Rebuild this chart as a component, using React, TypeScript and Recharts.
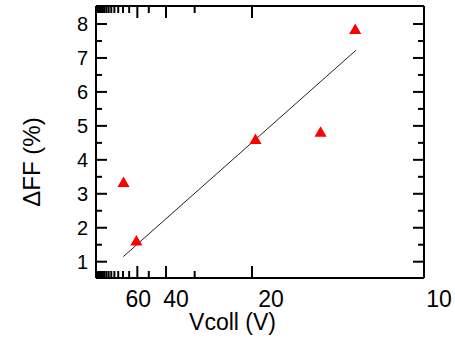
import { ScatterChart, Scatter, XAxis, YAxis, ZAxis, Label } from "recharts";

// measured points: collector voltage (V) vs change of fill factor (%)
const collectorVolts = [79, 61, 19.6, 14.3, 12.5];
const deltaFF = [3.3, 1.58, 4.57, 4.78, 7.81];

// straight fit drawn through the points
const fitVolts = [79.4, 12.46];
const fitDeltaFF = [1.15, 7.23];

// axis ticks (x axis runs in 1/V)
const labeledVolts = [60, 40, 20, 10];
const minorVolts = [30, 50, 70, 80, 90, 100, 110, 120, 130, 140, 150, 160, 170, 180, 190, 200];
const majorFF = [1, 2, 3, 4, 5, 6, 7, 8];
const minorFF = [1.5, 2.5, 3.5, 4.5, 5.5, 6.5, 7.5];

const points = collectorVolts.map((v, i) => ({ inv: 1 / v, ff: deltaFF[i] }));
const fitLine = fitVolts.map((v, i) => ({ inv: 1 / v, ff: fitDeltaFF[i] }));
const xTicks = [...labeledVolts, ...minorVolts].map((v) => 1 / v);
const yTicks = [...majorFF, ...minorFF];

const FONT = '"Liberation Sans", Arial, Helvetica, sans-serif';
// the original labels sit a little right of their ticks
const labelShift: Record<number, number> = { 60: 1, 40: 10, 20: 19, 10: 15 };

const volt = (u: number) => Math.round(1 / u);
const isMajorX = (u: number) => labeledVolts.includes(volt(u));

function BottomTick(props: any) {
  const { x, y, payload } = props;
  const v = volt(payload.value);
  const major = isMajorX(payload.value);
  return (
    <g>
      <line x1={x} x2={x} y1={y} y2={y - (major ? 12 : 7)} stroke="#000" strokeWidth={2} />
      {major && (
        <text x={x + (labelShift[v] ?? 0)} y={y + 29} textAnchor="middle" fontSize={23} fontFamily={FONT} fill="#000">
          {v}
        </text>
      )}
    </g>
  );
}

function TopTick(props: any) {
  const { x, y, payload } = props;
  const len = isMajorX(payload.value) ? 12 : 7;
  return <line x1={x} x2={x} y1={y} y2={y + len} stroke="#000" strokeWidth={2} />;
}

function LeftTick(props: any) {
  const { x, y, payload } = props;
  const major = Number.isInteger(payload.value);
  return (
    <g>
      <line x1={x} x2={x + (major ? 11 : 6)} y1={y} y2={y} stroke="#000" strokeWidth={2} />
      {major && (
        <text x={x - 8} y={y + 7} textAnchor="end" fontSize={20} fontFamily={FONT} fill="#000">
          {payload.value}
        </text>
      )}
    </g>
  );
}

function RightTick(props: any) {
  const { x, y, payload } = props;
  const len = Number.isInteger(payload.value) ? 11 : 6;
  return <line x1={x} x2={x - len} y1={y} y2={y} stroke="#000" strokeWidth={2} />;
}

const axisLine = { stroke: "#000", strokeWidth: 2 };
const xDomain: [number, number] = [0.00465, 0.1];
const yDomain: [number, number] = [0.52, 8.53];

export default function App() {
  return (
    <div style={{ position: "absolute", left: 0, top: 0, background: "#fff" }}>
      <ScatterChart width={455} height={341} margin={{ top: 5, right: 30, bottom: 0, left: 0 }}>
        <XAxis
          xAxisId="b"
          type="number"
          dataKey="inv"
          orientation="bottom"
          height={63}
          domain={xDomain}
          allowDataOverflow
          ticks={xTicks}
          interval={0}
          tickSize={0}
          tickMargin={0}
          tick={<BottomTick />}
          axisLine={axisLine}
        >
          <Label
            content={(p: any) => (
              <text
                x={p.viewBox.x + p.viewBox.width / 2 - 27.5}
                y={p.viewBox.y + 52}
                textAnchor="middle"
                fontSize={23}
                fontFamily={FONT}
                fill="#000"
              >
                Vcoll (V)
              </text>
            )}
          />
        </XAxis>
        <XAxis
          xAxisId="t"
          type="number"
          dataKey="inv"
          orientation="top"
          height={1}
          domain={xDomain}
          allowDataOverflow
          ticks={xTicks}
          interval={0}
          tickSize={0}
          tickMargin={0}
          tick={<TopTick />}
          axisLine={axisLine}
        />
        <YAxis
          yAxisId="l"
          type="number"
          dataKey="ff"
          width={96}
          domain={yDomain}
          allowDataOverflow
          ticks={yTicks}
          interval={0}
          tickSize={0}
          tickMargin={0}
          tick={<LeftTick />}
          axisLine={axisLine}
        >
          <Label
            content={(p: any) => {
              const cx = p.viewBox.x + 40;
              const cy = p.viewBox.y + p.viewBox.height / 2 + 20;
              return (
                <text
                  x={cx}
                  y={cy}
                  transform={`rotate(-90, ${cx}, ${cy})`}
                  textAnchor="middle"
                  fontSize={24}
                  fontFamily={FONT}
                  fill="#000"
                >
                  ΔFF (%)
                </text>
              );
            }}
          />
        </YAxis>
        <YAxis
          yAxisId="r"
          type="number"
          dataKey="ff"
          orientation="right"
          width={1}
          domain={yDomain}
          allowDataOverflow
          ticks={yTicks}
          interval={0}
          tickSize={0}
          tickMargin={0}
          tick={<RightTick />}
          axisLine={axisLine}
        />
        <ZAxis range={[150, 150]} />
        <Scatter
          xAxisId="t"
          yAxisId="r"
          data={points}
          shape={() => <g />}
          isAnimationActive={false}
        />
        <Scatter
          xAxisId="b"
          yAxisId="l"
          data={fitLine}
          line={{ stroke: "#222", strokeWidth: 1 }}
          shape={() => <g />}
          isAnimationActive={false}
        />
        <Scatter
          xAxisId="b"
          yAxisId="l"
          data={points}
          shape="triangle"
          fill="#ff0000"
          isAnimationActive={false}
        />
      </ScatterChart>
    </div>
  );
}
